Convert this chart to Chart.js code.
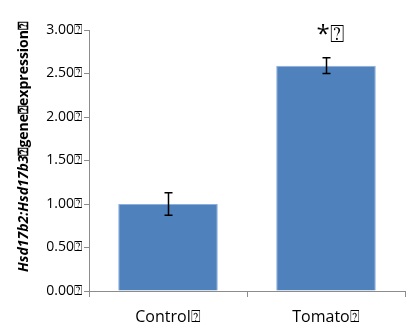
<!DOCTYPE html>
<html>
<head>
<meta charset="utf-8">
<script src="https://cdn.jsdelivr.net/npm/chart.js@4"></script>
<style>
  html, body { margin: 0; padding: 0; background: #fff; }
  #wrap { width: 409px; height: 329px; position: relative; }
</style>
</head>
<body>
<div id="wrap"><canvas id="c" width="409" height="329"></canvas></div>
<script>
const categories = ['Control\u2370', 'Tomato\u2370'];
const expression = [1.00, 2.59];
const errors = [0.13, 0.09];
const yTicks = [0, 0.5, 1, 1.5, 2, 2.5, 3];
const significance = ['', '*\u2370'];

const FONT = '"Open Sans", "Liberation Sans", sans-serif';
const AXIS = '#8c8c8c';

// Error bars (whiskers with caps) drawn from the dataset values
const errorBars = {
  id: 'errorBars',
  afterDatasetsDraw(chart) {
    const { ctx, scales: { y } } = chart;
    const meta = chart.getDatasetMeta(0);
    ctx.save();
    ctx.strokeStyle = '#000';
    ctx.lineWidth = 1.5;
    meta.data.forEach((bar, i) => {
      const x = Math.round(bar.x) + 0.5;
      const top = y.getPixelForValue(expression[i] + errors[i]);
      const bot = y.getPixelForValue(expression[i] - errors[i]);
      ctx.beginPath();
      ctx.moveTo(x, top); ctx.lineTo(x, bot);
      ctx.moveTo(x - 4, top); ctx.lineTo(x + 4, top);
      ctx.moveTo(x - 4, bot); ctx.lineTo(x + 4, bot);
      ctx.stroke();
    });
    // significance marks above the bars
    ctx.fillStyle = '#000';
    ctx.textAlign = 'center';
    ctx.textBaseline = 'middle';
    ctx.font = '24px ' + FONT;
    meta.data.forEach((bar, i) => {
      if (!significance[i]) return;
      ctx.fillText(significance[i], bar.x + 4, y.getPixelForValue(2.94));
    });
    ctx.restore();
  }
};

// Y axis title with an italic gene-ratio part followed by upright text
const yTitle = {
  id: 'yTitle',
  afterDraw(chart) {
    const { ctx } = chart;
    const parts = [
      { text: 'Hsd17b2:Hsd17b3', font: 'italic bold 14px ' + FONT },
      { text: '\u2370gene\u2370expression\u2370', font: 'bold 14px ' + FONT }
    ];
    ctx.save();
    let total = 0;
    parts.forEach(p => { ctx.font = p.font; p.w = ctx.measureText(p.text).width; total += p.w; });
    ctx.translate(24, 147);
    ctx.rotate(-Math.PI / 2);
    ctx.fillStyle = '#000';
    ctx.textBaseline = 'middle';
    ctx.textAlign = 'left';
    let x = -total / 2;
    parts.forEach(p => { ctx.font = p.font; ctx.fillText(p.text, x, 0); x += p.w; });
    ctx.restore();
  }
};

new Chart(document.getElementById('c'), {
  type: 'bar',
  data: {
    labels: categories,
    datasets: [{
      data: expression,
      backgroundColor: '#4f81bd',
      borderColor: '#8eaedb',
      borderWidth: { top: 1, left: 1, right: 1, bottom: 0 },
      categoryPercentage: 0.63,
      barPercentage: 1.0
    }]
  },
  options: {
    responsive: false,
    animation: false,
    events: [],
    layout: { padding: { top: 30, right: 4, left: 0, bottom: 0 } },
    plugins: { legend: { display: false }, tooltip: { enabled: false }, title: { display: false } },
    scales: {
      x: {
        grid: { display: true, offset: true, drawOnChartArea: false, drawTicks: true, tickLength: 6, color: AXIS },
        border: { display: true, color: AXIS, width: 1 },
        ticks: { color: '#000', font: { family: FONT, size: 16 }, padding: 11 },
        afterFit(scale) { scale.height = 38; }
      },
      y: {
        min: 0, max: 3,
        afterBuildTicks(scale) { scale.ticks = yTicks.map(v => ({ value: v })); },
        grid: { display: true, drawOnChartArea: false, drawTicks: true, tickLength: 5, color: AXIS },
        border: { display: true, color: AXIS, width: 1 },
        ticks: {
          color: '#000', font: { family: FONT, size: 14 }, padding: 2,
          callback: v => v.toFixed(2) + '\u2370'
        },
        afterFit(scale) { scale.width = 89; }
      }
    }
  },
  plugins: [errorBars, yTitle]
});
</script>
</body>
</html>
